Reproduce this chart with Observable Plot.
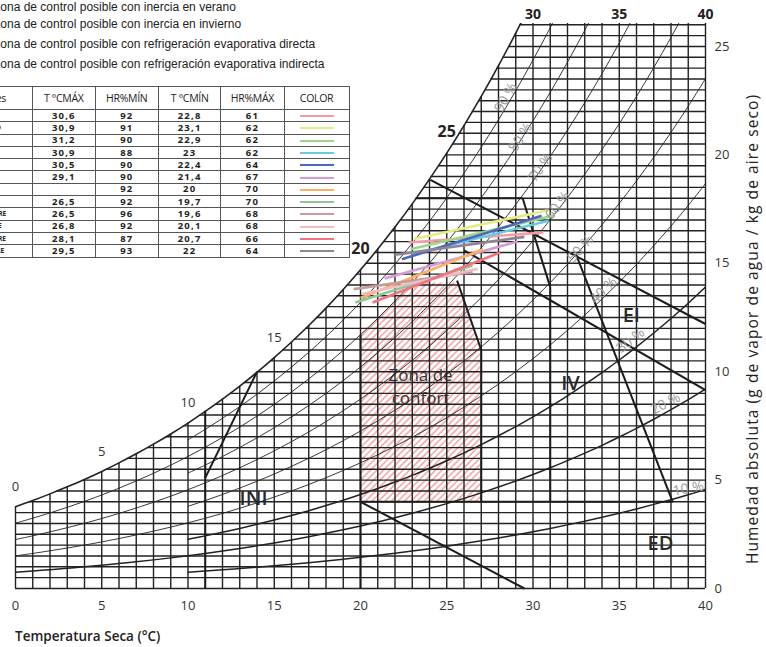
<!DOCTYPE html>
<html><head><meta charset="utf-8">
<script src="https://cdn.jsdelivr.net/npm/d3@7"></script>
<script src="https://cdn.jsdelivr.net/npm/@observablehq/plot@0.6"></script>
<style>
html,body{margin:0;padding:0;background:#fff;overflow:hidden;}
#wrap{position:relative;width:766px;height:647px;overflow:hidden;font-family:"Liberation Sans",Arial,sans-serif;}
#chart{position:absolute;left:0;top:0;}
.leg{position:absolute;left:-7px;font-size:12px;color:#222;white-space:nowrap;line-height:14px;}
#tbl{position:absolute;left:-38px;top:86px;border-collapse:collapse;table-layout:fixed;background:#fff;}
#tbl td,#tbl th{border:1px solid #555;padding:0;text-align:center;overflow:hidden;white-space:nowrap;}
#tbl th{height:22px;font-weight:normal;font-size:10.5px;color:#222;font-family:"Open Sans",sans-serif;letter-spacing:-0.3px;}
#tbl td{height:11.3px;font-size:9.5px;line-height:10px;font-weight:700;color:#222;font-family:"Open Sans",sans-serif;letter-spacing:1.2px;}
#tbl td.m{font-size:6.5px;letter-spacing:0;padding-right:22px;}
.sw{display:inline-block;width:34px;height:2px;vertical-align:middle;}
#xlab{position:absolute;left:15px;top:627px;font-family:"Open Sans",sans-serif;font-size:13.5px;font-weight:600;color:#222;}
#ylab{position:absolute;left:752px;top:329px;transform:translate(-50%,-50%) rotate(-90deg);font-family:"Open Sans",sans-serif;font-size:15.5px;letter-spacing:1.1px;color:#222;white-space:nowrap;}
</style></head>
<body>
<div id="wrap">
  <div id="chart"></div>
  <div class="leg" style="top:0px">Zona de control posible con inercia en verano</div>
  <div class="leg" style="top:17px">Zona de control posible con inercia en invierno</div>
  <div class="leg" style="top:37px">Zona de control posible con refrigeración evaporativa directa</div>
  <div class="leg" style="top:57px">Zona de control posible con refrigeración evaporativa indirecta</div>
  <table id="tbl"></table>
  <div id="xlab">Temperatura Seca (°C)</div>
  <div id="ylab">Humedad absoluta (g de vapor de agua / kg de aire seco)</div>
</div>
<script>
// ---------- table data ----------
const months = ["ENERO","FEBRERO","MARZO","ABRIL","MAYO","JUNIO","JULIO","AGOSTO","SEPTIEMBRE","OCTUBRE","NOVIEMBRE","DICIEMBRE"];
const tMaxTable = ["30,6","30,9","31,2","30,9","30,5","29,1","","26,5","26,5","26,8","28,1","29,5"];
const hrMinTable = ["92","91","90","88","90","90","92","92","96","92","87","93"];
const tMinTable = ["22,8","23,1","22,9","23","22,4","21,4","20","19,7","19,6","20,1","20,7","22"];
const hrMaxTable = ["61","62","62","62","64","67","70","70","68","68","66","64"];
const monthColors = ["#f59aa8","#e6ec84","#9cd68a","#66cbdc","#4c68c2","#d39cd6","#fbb062","#8cc898","#c99c9c","#edbcc4","#f2737f","#8e8592"];
const tableHeaders = ["Meses","T °CMÁX","HR%MÍN","T °CMÍN","HR%MÁX","COLOR"];

// ---------- monthly lines (°C, g/kg) ----------
const lineT0 = [22.8,23.1,22.9,23.0,22.4,21.4,20.0,19.7,19.6,20.1,20.7,22.0];
const lineW0 = [15.96,16.12,15.65,15.42,15.19,14.3,13.4,13.19,13.81,13.58,13.19,15.39];
const lineT1 = [30.6,30.9,31.2,30.9,30.5,29.1,27.1,26.5,26.5,26.8,28.1,29.5];
const lineW1 = [16.42,17.45,17.2,16.96,17.19,16.0,15.65,14.9,14.6,14.75,15.5,16.22];

// ---------- psychrometric base: saturation vapour pressure (kPa) 0..40 °C ----------
const satPressure = [0.611,0.657,0.706,0.758,0.813,0.872,0.935,1.002,1.073,1.148,1.228,1.313,1.403,1.498,1.599,1.706,1.819,1.938,2.064,2.198,2.339,2.488,2.645,2.810,2.985,3.169,3.363,3.567,3.782,4.008,4.246,4.495,4.758,5.034,5.323,5.627,5.945,6.280,6.630,6.997,7.384];
const rhCurves = [0.1,0.2,0.3,0.4,0.5,0.6,0.7,0.8,0.9];
const rhStart = [10,0,10,0,10,0,10,0,10];
const xTicks = [0,5,10,15,20,25,30,35,40];
const yTicks = [0,5,10,15,20,25];
const topTicks = [30,35,40];
const satLabelT = [0,5,10,15];
const satLabelBigT = [20,25];

// RH labels
const rhLabels = ["10 %","20 %","30 %","40 %","50 %","60 %","70 %","80 %","90 %"];
const rhLabelT = [39.0,37.68,35.65,34.09,32.75,31.42,30.43,29.28,28.41];
const rhLabelW = [4.61,8.53,11.44,13.75,15.68,17.67,19.42,20.80,22.65];
const rhLabelAngle = [-10,-28,-38,-44,-49,-52,-55,-57,-60];

// zone labels
const zoneLabels = ["INI","IV","EI","ED"];
const zoneLabelT = [13.8,32.17,35.7,37.39];
const zoneLabelW = [4.15,9.46,12.59,2.08];
const comfortLabels = ["Zona de","confort"];
const comfortLabelT = [23.48,23.48];
const comfortLabelW = [9.82,8.76];

// comfort zone outline (top edge), bottom at 4 g/kg
const comfortT = [20,21,22,22.8,25.6,27];
const comfortW = [11.7,12.46,13.27,14.1,14.1,11.0];
const comfortBottom = 4;

// zone boundary segments (°C, g/kg)
const zoneT1 = [11,11,20,20,27,27,20,31,31,23.2,24.05,26.0,32.5];
const zoneW1 = [5.1,0,0,4,4,11,4,4,13.9,18,18.85,15.6,15.4];
const zoneT2 = [14,11,20,38.1,27,25.6,29.5,31,29.4,29.4,40,40,38.1];
const zoneW2 = [10.0,8.2,11.7,4,11,14.2,0,13.9,18,18,12.2,9.15,4.0];

// ---------- helpers ----------
const P = 101.325, Y_MAX = 26.06;
function wAt(t, rh){
  const i = Math.min(Math.floor(t), 39), f = t - i;
  const p = rh * (satPressure[i]*(1-f) + satPressure[i+1]*f);
  return 622 * p / (P - p);
}
function tSat(w){
  if (w <= wAt(0,1)) return 0;
  for (let i = 0; i < 40; i++){
    const a = wAt(i,1), b = wAt(i+1,1);
    if (w >= a && w <= b) return i + (w-a)/(b-a);
  }
  return 40;
}

const rhPts = [];
rhCurves.forEach((rh,k)=>{ for(let t=rhStart[k]; t<=40; t+=1) rhPts.push({rh, t, w:wAt(t,rh)}); });
const rhThin = rhPts.filter(d=>d.rh>0.3), rhThick = rhPts.filter(d=>d.rh<=0.3);
const satPts = d3.range(0,31).map(t=>({t, w:wAt(t,1)}));
const comfortPts = comfortT.map((t,i)=>({t, w:comfortW[i]}));
const vGrid = d3.range(0,41), hGrid = d3.range(0,26.01,0.5);
const zones = zoneT1.map((t,i)=>({t1:t,w1:zoneW1[i],t2:zoneT2[i],w2:zoneW2[i]}));
const mLines = months.map((m,i)=>({m, t0:lineT0[i], w0:lineW0[i], t1:lineT1[i], w1:lineW1[i], c:monthColors[i]}));
const I = (a)=>a.map((_,i)=>i);

const chart = Plot.plot({
  width: 766, height: 647,
  marginLeft: 15, marginRight: 61, marginTop: 23, marginBottom: 59,
  x: {domain:[0,40]}, y: {domain:[0,Y_MAX]},
  style: {fontFamily:"'Open Sans',sans-serif", fontSize:"13px", color:"#222", background:"transparent", overflow:"visible"},
  marks: [
    Plot.areaY(comfortPts, {x:"t", y1:comfortBottom, y2:"w", fill:"url(#hatch)"}),
    Plot.ruleX(vGrid, {x:d=>d, y1:0, y2:d=>Math.min(wAt(d,1),Y_MAX), stroke:"#222", strokeWidth:1.4}),
    Plot.ruleY(hGrid, {y:d=>d, x1:d=>tSat(d), x2:40, stroke:"#222", strokeWidth:1.4}),
    Plot.line(rhThin, {x:"t", y:"w", z:"rh", stroke:"#222", strokeWidth:0.9, curve:"catmull-rom", clip:true}),
    Plot.line(rhThick, {x:"t", y:"w", z:"rh", stroke:"#222", strokeWidth:1.5, curve:"catmull-rom", clip:true}),
    Plot.line(satPts, {x:"t", y:"w", stroke:"#222", strokeWidth:1.6, curve:"catmull-rom", clip:true}),
    Plot.link(zones, {x1:"t1", y1:"w1", x2:"t2", y2:"w2", stroke:"#1c1c1c", strokeWidth:2}),
    Plot.link(mLines, {x1:"t0", y1:"w0", x2:"t1", y2:"w1", stroke:"c", strokeWidth:2.6}),
    Plot.text(I(rhLabels), {x:i=>rhLabelT[i], y:i=>rhLabelW[i], text:i=>rhLabels[i], rotate:i=>rhLabelAngle[i], fill:"#9a9a9a", fontSize:14}),
    Plot.text(I(zoneLabels), {x:i=>zoneLabelT[i], y:i=>zoneLabelW[i], text:i=>zoneLabels[i], fill:"#2a2a2a", fontSize:20, fontWeight:600}),
    Plot.text(I(comfortLabels), {x:i=>comfortLabelT[i], y:i=>comfortLabelW[i], text:i=>comfortLabels[i], fill:"#333", fontSize:17}),
    Plot.text(satLabelT, {x:d=>d, y:d=>wAt(d,1), text:d=>String(d), dx:0, dy:-20, fill:"#333", fontSize:13}),
    Plot.text(satLabelBigT, {x:d=>d, y:d=>wAt(d,1), text:d=>String(d), dx:0, dy:-21, fill:"#222", fontSize:16, fontWeight:"bold"}),
    Plot.axisX({anchor:"bottom", ticks:xTicks, tickSize:0, tickPadding:12, label:null, fontSize:13, fill:"#333"}),
    Plot.axisX({anchor:"top", ticks:topTicks, tickSize:0, tickPadding:5, label:null, fontSize:14, fontWeight:"bold", fill:"#222"}),
    Plot.axisY({anchor:"right", ticks:yTicks, tickSize:0, tickPadding:9, label:null, fontSize:13, fill:"#333"})
  ]
});
document.getElementById("chart").appendChild(chart);

// hatch pattern for comfort zone
const svg = d3.select(chart.tagName.toLowerCase()==="svg" ? chart : chart.querySelector("svg"));
const pat = svg.insert("defs",":first-child").append("pattern")
  .attr("id","hatch").attr("patternUnits","userSpaceOnUse")
  .attr("width",4.6).attr("height",4.6).attr("patternTransform","rotate(45)");
pat.append("line").attr("x1",1).attr("y1",0).attr("x2",1).attr("y2",4.6)
  .attr("stroke","#f19a9a").attr("stroke-width",1.4);

// table
const tbl = d3.select("#tbl");
const widths = [70,62.6,63.4,62.3,63.3,65];
tbl.append("colgroup").selectAll("col").data(widths).join("col").style("width",d=>d+"px");
tbl.append("tr").selectAll("th").data(tableHeaders).join("th")
  .text(d=>d).style("text-align",(d,i)=>i===0?"right":"center").style("padding-right",(d,i)=>i===0?"26px":"0");
months.forEach((m,i)=>{
  const tr = tbl.append("tr");
  tr.append("td").attr("class","m").text(m);
  [tMaxTable[i],hrMinTable[i],tMinTable[i],hrMaxTable[i]].forEach(v=>tr.append("td").text(v));
  tr.append("td").append("span").attr("class","sw").style("background",monthColors[i]);
});
</script>
</body></html>
